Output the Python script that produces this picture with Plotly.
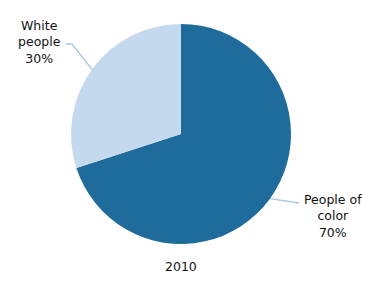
import math
import plotly.graph_objects as go

labels = ["People of color", "White people"]
label_text = ["People of<br>color<br>70%", "White<br>people<br>30%"]
values = [70, 30]
colors = ["#1e6b9c", "#c5d9ee"]
title = "2010"

W, H = 382, 291
cx, cy, r = 181, 134, 110  # pie centre / radius in pixels
FONT = "DejaVu Sans"


def px(x):
    return x / W


def py(y):
    return 1 - y / H


fig = go.Figure(go.Pie(
    labels=labels, values=values, sort=False, direction="clockwise", rotation=0,
    marker=dict(colors=colors, line=dict(color="white", width=0)),
    textinfo="none", hoverinfo="label+percent", showlegend=False,
    domain=dict(x=[px(cx - r), px(cx + r)], y=[py(cy + r), py(cy - r)]),
))

# leader lines + labels derived from slice mid-angles
total = sum(values)
cum = 0
shapes, annots = [], []
label_pos = [(333, 216), (39, 42)]
elbow = [None, (72, 44)]
ends = [(299, 203), (66, 44)]
for i, v in enumerate(values):
    mid = (cum + v / 2) / total * 2 * math.pi
    cum += v
    ex = cx + r * math.sin(mid)
    ey = cy - r * math.cos(mid)
    pts = [(ex, ey)]
    if elbow[i]:
        pts.append(elbow[i])
    pts.append(ends[i])
    path = "M " + " L ".join(f"{px(a)},{py(b)}" for a, b in pts)
    shapes.append(dict(type="path", xref="paper", yref="paper", path=path,
                       line=dict(color="#a9c6e6", width=1.3)))
    lx, ly = label_pos[i]
    annots.append(dict(x=px(lx), y=py(ly), xref="paper", yref="paper",
                       text=label_text[i], showarrow=False, align="center",
                       xanchor="center", yanchor="middle",
                       font=dict(size=12.5, color="#111111", family=FONT)))

annots.append(dict(x=px(cx), y=py(266), xref="paper", yref="paper", text=title,
                   showarrow=False, xanchor="center", yanchor="middle",
                   font=dict(size=12.5, color="#111111", family=FONT)))

fig.update_layout(width=W, height=H, margin=dict(l=0, r=0, t=0, b=0),
                  paper_bgcolor="white", plot_bgcolor="white",
                  shapes=shapes, annotations=annots)
fig.write_html("out.html")
